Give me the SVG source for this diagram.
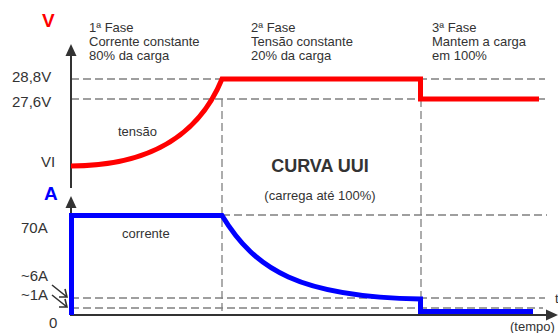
<svg xmlns="http://www.w3.org/2000/svg" width="558" height="333" viewBox="0 0 558 333">
<style>
text{font-family:"Liberation Sans",Arial,sans-serif;fill:#333;font-size:13px}
.lbl{font-size:15px}
.dash{stroke:#808080;stroke-width:1.3;stroke-dasharray:8 4;fill:none}
.axis{stroke:#333;stroke-width:2;fill:none}
.head{fill:#333}
.v{stroke:#f00;stroke-width:5;fill:none}
.a{stroke:#00f;stroke-width:5;fill:none}
.ptr{stroke:#333;stroke-width:1.6;fill:none}
</style>
<rect width="558" height="333" fill="#fff"/>
<g id="grid">
<path class="dash" d="M71,79H545M71,99H545M222,215H547M71,298H545M71,308H543"/>
<path class="dash" d="M222,99V315M421,99V315"/>
</g>
<g id="axes">
<path class="axis" d="M71,55V188M71,207V315H548"/>
<path class="head" d="M71,44L65.5,56H76.5Z"/>
<path class="head" d="M71,196L65.5,208H76.5Z"/>
<path class="head" d="M558,315L546,309.5V320.5Z"/>
</g>
<g id="tensao-curve">
<path class="v" d="M71,166C135,166 195,145 222,79H420.5V99H539"/>
</g>
<g id="corrente-curve">
<path class="a" d="M71.5,315V215.5H222C255,270 300,297 420.5,299V311.5H533"/>
</g>
<g id="labels">
<text x="42" y="27" style="font-size:19px;font-weight:bold;fill:#f00">V</text>
<text x="44" y="200" style="font-size:19px;font-weight:bold;fill:#00f">A</text>
<text class="lbl" x="12" y="82">28,8V</text>
<text class="lbl" x="12" y="107">27,6V</text>
<text class="lbl" x="41" y="167">VI</text>
<text class="lbl" x="21" y="233">70A</text>
<text class="lbl" x="21" y="281">~6A</text>
<text class="lbl" x="21" y="300">~1A</text>
<text class="lbl" x="49" y="328">0</text>
<text x="118" y="136">tensão</text>
<text x="122" y="238">corrente</text>
<text x="320" y="172" text-anchor="middle" style="font-size:18px;font-weight:bold">CURVA UUI</text>
<text x="320" y="200" text-anchor="middle">(carrega até 100%)</text>
<text x="510" y="331">(tempo)</text>
<text x="555" y="303">t</text>
</g>
<g id="phases">
<text x="89" y="32">1ª Fase</text>
<text x="89" y="46">Corrente constante</text>
<text x="89" y="60">80% da carga</text>
<text x="251" y="32">2ª Fase</text>
<text x="251" y="46">Tensão constante</text>
<text x="251" y="60">20% da carga</text>
<text x="432" y="32">3ª Fase</text>
<text x="432" y="46">Mantem a carga</text>
<text x="432" y="60">em 100%</text>
</g>
<g id="pointers">
<path class="ptr" d="M52,285L67,297M59,297L67,297L65,289"/>
<path class="ptr" d="M52,295L67,307M59,307L67,307L65,299"/>
</g>
</svg>
